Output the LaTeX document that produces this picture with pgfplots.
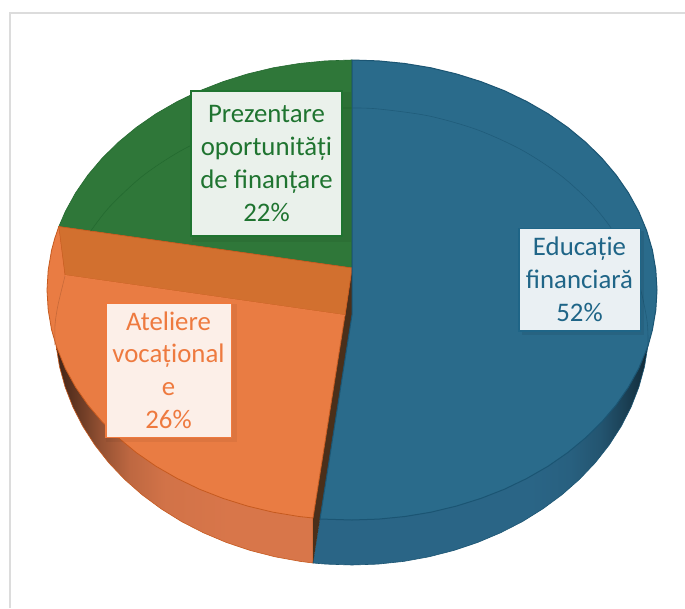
\documentclass[border=0pt]{standalone}
\usepackage{fontspec}
\setmainfont{Carlito}
\usepackage{pgfplots}
\pgfplotsset{compat=1.18}

\definecolor{blueTop}{HTML}{2A6B8B}
\definecolor{blueSide}{HTML}{2A6586}
\definecolor{blueRim}{HTML}{1B5573}
\definecolor{blueTxt}{HTML}{1F6587}
\definecolor{greenTop}{HTML}{2F7739}
\definecolor{greenRim}{HTML}{246A30}
\definecolor{greenTxt}{HTML}{1F7430}
\definecolor{orTop}{HTML}{E97C43}
\definecolor{orBevel}{HTML}{D2702F}
\definecolor{orSide}{HTML}{D8764A}
\definecolor{orRim}{HTML}{C65A1F}
\definecolor{orTxt}{HTML}{EE7A3F}
\definecolor{frameGrey}{HTML}{DCDCDC}
\definecolor{sliver}{HTML}{4A2F1A}

% side gradients; 25bp to 75bp is what shows across the polygon
\colorlet{o0}{orSide!30!black}
\colorlet{o1}{orSide!50!black}
\colorlet{o2}{orSide!68!black}
\colorlet{o3}{orSide!88!black}
\colorlet{o4}{orSide!97!black}
\pgfdeclarehorizontalshading{orSideShade}{100bp}{
  color(0bp)=(o0); color(25bp)=(o0); color(29.7bp)=(o1); color(33.5bp)=(o2);
  color(39.4bp)=(o3); color(46bp)=(o4); color(58.8bp)=(orSide); color(100bp)=(orSide)}
\colorlet{b0}{blueSide!35!black}
\colorlet{b1}{blueSide!50!black}
\colorlet{b2}{blueSide!68!black}
\colorlet{b3}{blueSide!84!black}
\colorlet{b4}{blueSide!95!black}
\pgfdeclarehorizontalshading{blueSideShade}{100bp}{
  color(0bp)=(blueSide); color(57.4bp)=(blueSide); color(63.4bp)=(b4); color(67.8bp)=(b3);
  color(70.8bp)=(b2); color(73.8bp)=(b1); color(75bp)=(b0); color(100bp)=(b0)}

\newcommand{\lbl}{\fontsize{26.8}{32.7}\selectfont}

\begin{document}
\begin{tikzpicture}
\begin{axis}[
  scale only axis, width=685pt, height=608pt,
  xmin=0, xmax=685, ymin=0, ymax=608, y dir=reverse,
  hide axis, no markers, clip=true,
]
% page background keeps the whole axis box in the picture
\addplot[fill=white,draw=none] coordinates {(0,0) (685,0) (685,608) (0,608)} -- cycle;
% frame
\addplot[draw=frameGrey,line width=2pt] coordinates {(10,608) (10,12.7) (685,12.7)};

% orange side
\addplot[shade,shading=orSideShade,draw=orRim,line width=0.6pt] coordinates {
 (56.1,345.9) (59.5,366.7) (65.1,387.1) (72.9,407.1) (82.8,426.4) (94.8,445) (108.7,462.7)
 (124.5,479.3) (142,494.7) (161.1,508.8) (181.6,521.6) (203.5,532.8) (226.5,542.5) (250.4,550.5)
 (275.1,556.8) (300.4,561.4) (313,563) (313,518) (150,300)} -- cycle;

% blue side
\addplot[shade,shading=blueSideShade,draw=blueRim,line width=0.6pt] coordinates {
 (647.9,345.9) (644.5,366.7) (638.9,387.1) (631.1,407.1) (621.2,426.4) (609.2,445) (595.3,462.7)
 (579.5,479.3) (562,494.7) (542.9,508.8) (522.4,521.6) (500.5,532.8) (477.5,542.5) (453.6,550.5)
 (428.9,556.8) (403.6,561.4) (377.9,564.1) (352,565) (326.1,564.1) (313,563) (320,519) (352,300) (633,296)} -- cycle;

% dark sliver between orange and blue
\addplot[fill=sliver,draw=none] coordinates {(352,268) (352,315) (313,563) (313,518) (345,315)} -- cycle;

% green top
\addplot[fill=greenTop,draw=greenRim,line width=0.6pt] coordinates {
 (352,60) (325.4,60.9) (299.1,63.5) (273.1,67.8) (247.7,73.9) (223.1,81.6) (199.5,90.8) (177.1,101.6)
 (155.9,113.8) (136.3,127.4) (118.4,142.2) (102.2,158.1) (87.9,175) (75.6,192.8) (65.4,211.3) (58.8,226.6)
 (352,268)} -- cycle;

% orange top
\addplot[fill=orTop,draw=orRim,line width=0.8pt] coordinates {
 (58.8,226.6) (54.8,238.3) (51.6,250.1) (48.2,270) (47,290) (48.2,310) (51.6,329.9) (56.6,347)
 (65.4,368.7) (75.6,387.2) (87.9,405) (102.2,421.9) (118.4,437.8) (136.3,452.6) (155.9,466.2)
 (177.1,478.4) (199.5,489.2) (223.1,498.4) (247.7,506.1) (273.1,512.2) (299.1,516.5) (313,518)
 (345,315) (352,268)} -- cycle;
\addplot[fill=orBevel,draw=orRim,line width=0.5pt] coordinates {(58.8,226.6) (352,268) (345,315) (65,275)} -- cycle;
\addplot[draw=orTop!85!black,line width=0.6pt,smooth] coordinates {(65,276) (58,305) (55,325) (55,345)};
\addplot[draw=orTop,line width=1pt] coordinates {(65,275.5) (345,315.5)};

% blue top
\addplot[fill=blueTop,draw=blueRim,line width=1pt] coordinates {
 (352,60) (378.6,60.9) (404.9,63.5) (430.9,67.8) (456.3,73.9) (480.9,81.6) (504.5,90.8) (526.9,101.6)
 (548.1,113.8) (567.7,127.4) (585.6,142.2) (601.8,158.1) (616.1,175) (628.4,192.8) (638.6,211.3)
 (646.6,230.5) (652.4,250.1) (655.8,270) (657,290) (655.8,310) (652.4,329.9) (648,346) (638.6,368.7)
 (628.4,387.2) (616.1,405) (601.8,421.9) (585.6,437.8) (567.7,452.6) (548.1,466.2) (526.9,478.4)
 (504.5,489.2) (480.9,498.4) (456.3,506.1) (430.9,512.2) (404.9,516.5) (378.6,519.1) (352,520) (320,519)
 (352,315)} -- cycle;

% inner bevel line
\addplot[draw=greenRim,line width=0.6pt,smooth] coordinates {
 (90.7,231.1) (109.5,206.9) (142.7,175.9) (182.2,150) (226.9,129.7) (275.4,115.9) (326.2,108.9) (352,108)};
\addplot[draw=blueRim!70!blueTop,line width=0.6pt,smooth] coordinates {
 (352,108) (377.8,108.9) (428.6,115.9) (477.1,129.7) (521.8,150) (561.3,175.9) (594.5,206.9)
 (620.3,241.9) (637.9,280) (646.9,319.8) (648,346)};

% label shadows
\addplot[fill=black,fill opacity=0.07,draw=none] coordinates {(522,231) (644,231) (644,335) (522,335)} -- cycle;
\addplot[fill=black,fill opacity=0.06,draw=none] coordinates {(192,92) (351,92) (351,242) (192,242)} -- cycle;
\addplot[fill=black,fill opacity=0.05,draw=none] coordinates {(106,304) (237,304) (237,442) (106,442)} -- cycle;

% labels
\node[draw=blueTxt,fill=white!90!blueTop,line width=1.5pt,minimum width=121.5pt,minimum height=102.5pt,inner sep=0pt,
  align=center,text=blueTxt,font=\lbl] at (axis cs:579.5,279.5) {Educație\\financiară\\52\%};
\node[draw=greenTxt,fill=white!90!greenTop,line width=2pt,minimum width=151pt,minimum height=145pt,inner sep=0pt,
  align=center,text=greenTxt,font=\lbl] at (axis cs:266.5,163.5) {Prezentare\\oportunități\\de finanțare\\22\%};
\node[draw=orTxt,fill=white!88!orTop,line width=1.5pt,minimum width=125.5pt,minimum height=134.5pt,inner sep=0pt,
  align=center,text=orTxt,font=\lbl] at (axis cs:168.5,370) {Ateliere\\vocațional\\e\\26\%};
\end{axis}
\end{tikzpicture}
\end{document}
